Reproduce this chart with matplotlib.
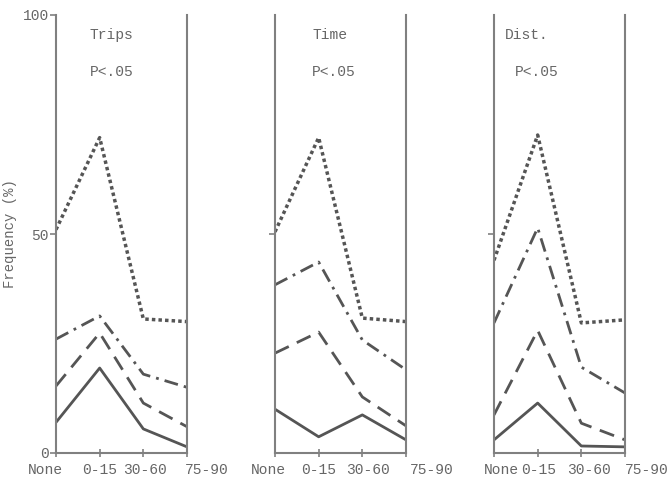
import numpy as np
import matplotlib
matplotlib.use("Agg")
import matplotlib.pyplot as plt
import matplotlib.transforms as mtrans

plt.rcParams['font.family'] = ['Liberation Mono', 'DejaVu Sans Mono']

# data
categories = ["None", "0-15", "30-60", "75-90"]
panel_titles = ["Trips", "Time", "Dist."]
p_text = "P<.05"

trips_dotted = [51, 72, 30.6, 30]
trips_dashdot = [26, 31.3, 18, 15]
trips_dashed = [15.3, 27.4, 11.4, 6]
trips_solid = [7, 19.4, 5.5, 1.4]

time_dotted = [50.5, 72, 30.8, 30]
time_dashdot = [38.4, 43.6, 25.8, 19]
time_dashed = [22.8, 27.6, 12.8, 6.2]
time_solid = [10, 3.7, 8.7, 3]

dist_dotted = [44, 72.6, 29.7, 30.4]
dist_dashdot = [29.7, 51.4, 19.6, 13.7]
dist_dashed = [8.7, 28, 6.8, 3]
dist_solid = [3, 11.4, 1.6, 1.4]

panels = [
    (trips_dotted, trips_dashdot, trips_dashed, trips_solid),
    (time_dotted, time_dashdot, time_dashed, time_solid),
    (dist_dotted, dist_dashdot, dist_dashed, dist_solid),
]

line_col = "#555555"
axis_col = "#808080"
text_col = "#666666"

styles = [
    dict(linestyle=(0, (1, 0.9)), lw=2.5),
    dict(linestyle=(0, (5, 2.2, 1, 2.2)), lw=2.0),
    dict(linestyle=(0, (5.5, 3.2)), lw=2.0),
    dict(linestyle="-", lw=2.0),
]

fig = plt.figure(figsize=(6.68, 4.78), dpi=100)

lefts = [56 / 668, 275 / 668, 494 / 668]
width = 131 / 668
bottom = 1 - 453 / 478
height = (453 - 15) / 478

# title positions (x in data units, y in data units)
title_pos = [(1.27, 95.4), (1.26, 95.4), (0.76, 95.4)]
p_pos = [(1.27, 87), (1.35, 87), (0.98, 87)]
# label nudges in pixels for the typed tick labels
nudges = [[-11, 0, 2, 20], [-7, 0, 6, 26], [7, 1, 8, 22]]

x = np.arange(len(categories))
for i, (series, left) in enumerate(zip(panels, lefts)):
    ax = fig.add_axes([left, bottom, width, height])
    for ys, st in zip(series, styles):
        ax.plot(x, ys, color=line_col, solid_capstyle="butt",
                dash_capstyle="butt", **st)
    ax.set_xlim(0, 3)
    ax.set_ylim(0, 100)
    for s in ["left", "right", "bottom"]:
        ax.spines[s].set_color(axis_col)
        ax.spines[s].set_linewidth(1.5)
    ax.spines["top"].set_visible(False)
    ax.set_xticks(x)
    ax.set_xticklabels(categories, fontsize=10.5, color=text_col)
    ax.tick_params(axis="x", direction="inout", length=6, color=axis_col,
                   width=1.2, pad=4.5)
    for lab, dx in zip(ax.get_xticklabels(), nudges[i]):
        lab.set_transform(lab.get_transform() +
                          mtrans.ScaledTranslation(dx / 100, 0, fig.dpi_scale_trans))
    if i == 0:
        ax.set_yticks([0, 50, 100])
        ax.set_yticklabels(["0", "50", "100"], fontsize=10.5, color=text_col)
        ax.set_ylabel("Frequency (%)", fontsize=10, color=text_col)
        ax.yaxis.set_label_coords(-0.3, 0.5)
    else:
        ax.set_yticks([50])
        ax.set_yticklabels([""])
    ax.tick_params(axis="y", direction="out", length=4, color=axis_col,
                   width=1.2, pad=1)
    ax.text(*title_pos[i], panel_titles[i], ha="center", va="center",
            fontsize=10.5, color=text_col)
    ax.text(*p_pos[i], p_text, ha="center", va="center",
            fontsize=10.5, color=text_col)

fig.savefig("out.png", dpi=100)
